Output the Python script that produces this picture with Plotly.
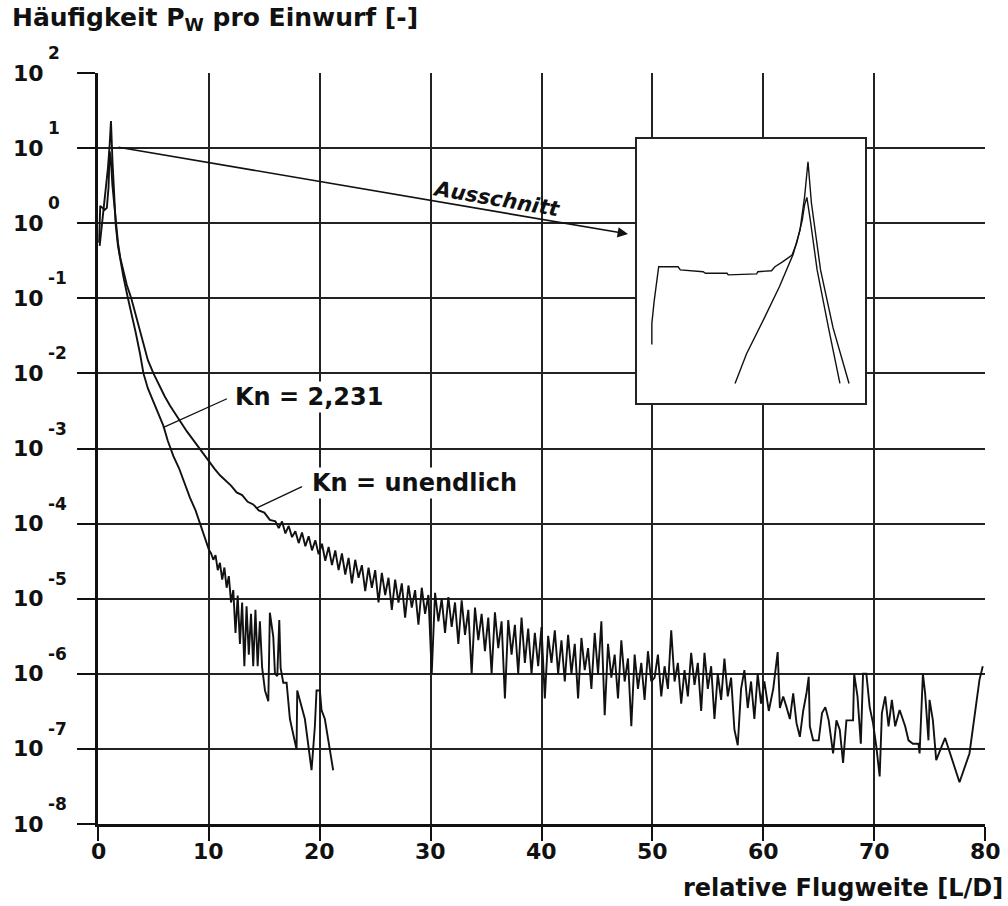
import plotly.graph_objects as go

FONT = "DejaVu Sans"
INK = "#111111"
GRID = "#222222"

# ---- Kn = unendlich : relative Flugweite [L/D] -> Häufigkeit P_W pro Einwurf ----
x_inf_head = [0.1, 0.2, 0.4, 0.6, 0.8, 0.95, 1.05, 1.15, 1.3, 1.45,
              1.6, 1.8, 2.0, 2.3, 2.6, 3.0, 3.5, 4.0, 4.5, 5.0,
              5.5, 6.0, 6.5, 7.0, 7.5, 8.0, 8.5, 9.0, 9.5, 10.0,
              10.5, 11.0, 11.5, 12.0, 12.5, 13.0, 13.5, 14.0, 14.5, 15.0,
              15.5, 16.0]
p_inf_head = [0.55, 1.7, 1.6, 1.5, 1.6, 3.0, 9.0, 7.5, 3.2, 1.9,
              1.1, 0.55, 0.35, 0.22, 0.15, 0.10, 0.052, 0.028, 0.015, 0.010,
              0.0069, 0.0050, 0.0037, 0.0028, 0.0022, 0.0017, 0.00135, 0.00107, 8.5e-4, 6.6e-4,
              5.4e-4, 4.4e-4, 3.7e-4, 3.2e-4, 2.6e-4, 2.4e-4, 1.95e-4, 1.8e-4, 1.5e-4, 1.4e-4,
              1.12e-4, 1.07e-4]

x_inf_band = [16.3, 16.6, 16.9, 17.2, 17.5, 17.8, 18.1, 18.4, 18.7, 19.0,
              19.3, 19.6, 19.9, 20.2, 20.5, 20.8, 21.1, 21.4, 21.7, 22.0,
              22.3, 22.6, 22.9, 23.2, 23.5, 23.8, 24.1, 24.4, 24.7, 25.0,
              25.3, 25.6, 25.9, 26.2, 26.5, 26.8, 27.1, 27.4, 27.7, 28.0,
              28.3, 28.6, 28.9, 29.2, 29.5, 29.8, 30.1, 30.4, 30.7, 31.0,
              31.3, 31.6, 31.9, 32.2, 32.5, 32.8, 33.1, 33.4, 33.7, 34.0,
              34.3, 34.6, 34.9, 35.2, 35.5, 35.8, 36.1, 36.4, 36.7, 37.0,
              37.3, 37.6, 37.9, 38.2, 38.5, 38.8, 39.1, 39.4, 39.7, 40.0,
              40.3, 40.6, 40.9, 41.2, 41.5, 41.8, 42.1, 42.4, 42.7, 43.0,
              43.3, 43.6, 43.9, 44.2, 44.5, 44.8, 45.1, 45.4, 45.7, 46.0,
              46.3, 46.6, 46.9, 47.2, 47.5, 47.8, 48.1, 48.4, 48.7, 49.0,
              49.3, 49.6, 49.9]
p_inf_band = [8.7e-5, 1.07e-4, 7.4e-5, 9.3e-5, 6.6e-5, 7.9e-5, 5.5e-5, 7.6e-5, 5.0e-5, 6.8e-5,
              4.4e-5, 6.0e-5, 3.9e-5, 5.4e-5, 3.2e-5, 4.9e-5, 2.8e-5, 4.4e-5, 2.4e-5, 4.0e-5,
              2.1e-5, 3.5e-5, 1.6e-5, 3.3e-5, 1.9e-5, 2.8e-5, 1.26e-5, 2.6e-5, 1.4e-5, 2.4e-5,
              8.9e-6, 2.2e-5, 1.12e-5, 1.9e-5, 7.1e-6, 1.8e-5, 8.9e-6, 1.6e-5, 5.6e-6, 1.5e-5,
              7.6e-6, 1.3e-5, 4.5e-6, 1.4e-5, 6.3e-6, 1.12e-5, 1.0e-6, 1.2e-5, 5.0e-6, 1.0e-5,
              3.5e-6, 1.05e-5, 4.2e-6, 8.9e-6, 2.5e-6, 9.5e-6, 3.3e-6, 7.1e-6, 1.0e-6, 7.6e-6,
              2.8e-6, 6.3e-6, 2.0e-6, 5.6e-6, 1.0e-6, 6.6e-6, 2.2e-6, 5.0e-6, 4.7e-7, 5.2e-6,
              1.8e-6, 4.5e-6, 1.0e-6, 5.6e-6, 1.4e-6, 4.0e-6, 1.0e-6, 3.5e-6, 1.26e-6, 4.2e-6,
              4.7e-7, 3.2e-6, 1.4e-6, 3.8e-6, 1.0e-6, 2.8e-6, 7.9e-7, 3.3e-6, 1.0e-6, 2.5e-6,
              4.7e-7, 3.0e-6, 1.12e-6, 2.2e-6, 6.3e-7, 3.5e-6, 1.0e-6, 5.0e-6, 2.8e-7, 2.5e-6,
              8.9e-7, 1.8e-6, 4.7e-7, 2.8e-6, 7.9e-7, 1.6e-6, 2.0e-7, 1.8e-6, 6.3e-7, 1.4e-6,
              4.5e-7, 2.0e-6, 7.9e-7]

x_inf_tail = [50.2, 50.5, 50.8, 51.1, 51.4, 51.7, 52.0, 52.3, 52.6, 52.9,
              53.2, 53.5, 53.8, 54.1, 54.4, 54.7, 55.0, 55.3, 55.6, 55.9,
              56.2, 56.5, 56.8, 57.1, 57.4, 57.7, 58.0, 58.3, 58.6, 58.9,
              59.2, 59.5, 59.8, 60.1, 60.5, 60.9, 61.3, 61.5, 61.8, 62.1,
              62.4, 62.7, 63.0, 63.3, 63.6, 63.9, 64.1, 64.2, 64.5, 65.0,
              65.3, 65.6, 65.9, 66.3, 66.6, 66.9, 67.2, 67.5, 68.1, 68.2,
              68.5, 68.8, 69.0, 69.3, 69.6, 69.9, 70.2, 70.5, 70.7, 71.0,
              71.3, 71.6, 71.9, 72.3, 72.8, 73.1, 73.5, 74.0, 74.1, 74.4,
              74.6, 74.9, 75.0, 75.3, 75.6, 76.4, 77.7, 78.6, 79.5, 79.8]
p_inf_tail = [8.9e-7, 1.8e-6, 5.0e-7, 1.26e-6, 6.3e-7, 3.8e-6, 7.9e-7, 1.4e-6, 4.0e-7, 1.12e-6,
              5.0e-7, 1.9e-6, 7.1e-7, 1.4e-6, 3.2e-7, 1.9e-6, 6.3e-7, 1.26e-6, 2.5e-7, 1.0e-6,
              4.5e-7, 1.6e-6, 5.0e-7, 8.9e-7, 1.8e-7, 1.12e-7, 6.3e-7, 1.12e-6, 3.5e-7, 7.9e-7,
              2.5e-7, 1.0e-6, 4.0e-7, 7.9e-7, 3.2e-7, 6.3e-7, 1.95e-6, 3.5e-7, 5.0e-7, 3.6e-7,
              2.5e-7, 5.5e-7, 2.2e-7, 1.45e-7, 3.2e-7, 5.5e-7, 9.1e-7, 2.0e-7, 1.3e-7, 1.3e-7,
              3.0e-7, 3.6e-7, 2.4e-7, 8.7e-8, 2.4e-7, 1.8e-7, 6.5e-8, 2.4e-7, 2.4e-7, 1.0e-6,
              5.0e-7, 1.17e-7, 1.0e-6, 1.0e-6, 3.6e-7, 2.2e-7, 1.07e-7, 4.3e-8, 3.0e-7, 5.0e-7,
              2.0e-7, 4.5e-7, 2.0e-7, 3.3e-7, 2.0e-7, 1.3e-7, 1.17e-7, 1.17e-7, 8.7e-8, 1.0e-6,
              5.5e-7, 1.3e-7, 4.5e-7, 2.4e-7, 7.1e-8, 1.4e-7, 3.6e-8, 8.7e-8, 8.3e-7, 1.26e-6]

# ---- Kn = 2,231 ----
x_kn_head = [0.15, 0.3, 0.5, 0.7, 0.9, 1.05, 1.17, 1.3, 1.45, 1.6,
             1.8, 2.0, 2.3, 2.7, 3.0, 3.4, 3.8, 4.1, 4.5, 5.0,
             5.5, 5.9, 6.3, 6.8, 7.3, 7.8, 8.3, 8.8, 9.2, 9.6,
             10.0]
p_kn_head = [0.5, 0.8, 1.4, 2.6, 5.5, 11.0, 23.0, 7.0, 2.2, 0.95,
             0.5, 0.32, 0.19, 0.10, 0.066, 0.035, 0.018, 0.010, 6.3e-3, 4.2e-3,
             2.8e-3, 2.0e-3, 1.26e-3, 7.9e-4, 5.5e-4, 3.5e-4, 2.2e-4, 1.5e-4, 1.0e-4, 7.1e-5,
             4.5e-5]

x_kn_band = [10.2, 10.4, 10.6, 10.8, 11.0, 11.2, 11.4, 11.6, 11.8, 12.0,
             12.2, 12.4, 12.6, 12.8, 13.0, 13.2, 13.4, 13.6, 13.8, 14.0,
             14.2, 14.4, 14.6]
p_kn_band = [4.0e-5, 3.3e-5, 3.8e-5, 2.4e-5, 3.0e-5, 1.8e-5, 2.6e-5, 1.4e-5, 2.0e-5, 8.9e-6,
             1.3e-5, 3.5e-6, 1.1e-5, 2.5e-6, 8.9e-6, 1.26e-6, 7.9e-6, 1.8e-6, 6.3e-6, 1.26e-6,
             7.1e-6, 1.26e-6, 5.0e-6]

x_kn_tail = [14.8, 15.06, 15.36, 15.5, 15.81, 15.96, 16.17, 16.35, 16.47, 16.71,
             17.01, 17.31, 17.91, 17.97, 18.21, 18.66, 19.26, 19.56, 19.71, 20.01,
             20.16, 20.46, 21.21]
p_kn_tail = [1.23e-6, 6.0e-7, 4.3e-7, 6.5e-6, 3.1e-6, 1.0e-6, 9.3e-7, 5.2e-6, 1.2e-6, 7.6e-7,
             7.6e-7, 2.5e-7, 9.8e-8, 6.0e-7, 4.5e-7, 2.5e-7, 5.2e-8, 2.0e-7, 6.0e-7, 6.0e-7,
             3.3e-7, 2.5e-7, 5.2e-8]

# ---- Ausschnitt: the emission peak at higher resolution ----
det_x_inf = [0.13, 0.13, 0.15, 0.17, 0.19, 0.36, 0.38, 0.58, 0.60, 0.79,
             0.80, 1.05, 1.06, 1.18, 1.21, 1.28, 1.36, 1.40, 1.45, 1.47,
             1.49, 1.52, 1.58, 1.68, 1.78]
det_p_inf = [0.25, 0.41, 0.69, 1.1, 1.56, 1.56, 1.45, 1.39, 1.34, 1.34,
             1.29, 1.32, 1.39, 1.42, 1.56, 1.76, 2.06, 2.71, 4.7, 6.7,
             8.0, 4.7, 1.45, 0.37, 0.1]
det_x_kn = [0.86, 0.96, 1.11, 1.25, 1.37, 1.43, 1.47, 1.50, 1.53, 1.61, 1.72, 1.86]
det_p_kn = [0.1, 0.2, 0.45, 0.98, 2.1, 3.7, 8.1, 18.5, 7.0, 1.45, 0.37, 0.1]

x_ticks = [0, 10, 20, 30, 40, 50, 60, 70, 80]
y_exponents = [2, 1, 0, -1, -2, -3, -4, -5, -6, -7, -8]

x_inf = x_inf_head + x_inf_band + x_inf_tail
p_inf = p_inf_head + p_inf_band + p_inf_tail
x_kn = x_kn_head + x_kn_band + x_kn_tail
p_kn = p_kn_head + p_kn_band + p_kn_tail


def bold(size, style="normal"):
    return dict(family=FONT, size=size, color=INK, weight="bold", style=style)


fig = go.Figure()
curve = dict(color=INK, width=1.9)
detail = dict(color=INK, width=1.4)
fig.add_trace(go.Scatter(x=x_inf, y=p_inf, mode="lines", line=curve, name="Kn = unendlich"))
fig.add_trace(go.Scatter(x=x_kn, y=p_kn, mode="lines", line=curve, name="Kn = 2,231"))
fig.add_trace(go.Scatter(x=det_x_inf, y=det_p_inf, mode="lines", line=detail,
                         xaxis="x2", yaxis="y2", name="Kn = unendlich (Ausschnitt)"))
fig.add_trace(go.Scatter(x=det_x_kn, y=det_p_kn, mode="lines", line=detail,
                         xaxis="x2", yaxis="y2", name="Kn = 2,231 (Ausschnitt)"))

frame = dict(showgrid=False, zeroline=False, showticklabels=False, ticks="",
             showline=True, mirror=True, linecolor=GRID, linewidth=2, fixedrange=True)

fig.update_layout(
    width=1008, height=906,
    margin=dict(l=98, r=23, t=73, b=82),
    paper_bgcolor="white", plot_bgcolor="white",
    showlegend=False,
    xaxis=dict(range=[0, 80], tickvals=x_ticks, showticklabels=False,
               ticks="outside", ticklen=14, tickwidth=2, tickcolor=INK,
               showgrid=True, gridcolor=GRID, gridwidth=2,
               showline=True, linecolor=INK, linewidth=3, zeroline=False,
               fixedrange=True),
    yaxis=dict(type="log", range=[-8, 2], dtick=1,
               ticks="outside", ticklen=18, tickwidth=2, tickcolor=INK,
               showticklabels=False,
               showgrid=True, gridcolor=GRID, gridwidth=2,
               showline=True, linecolor=INK, linewidth=3, zeroline=False,
               fixedrange=True),
    xaxis2=dict(domain=[0.6077, 0.8647], anchor="y2", range=[0, 2], **frame),
    yaxis2=dict(domain=[0.5606, 0.9121], anchor="x2", type="log", range=[-1.2, 1.5], **frame),
)

# white panel behind the detail view
fig.add_shape(type="rect", xref="x2 domain", yref="y2 domain", x0=0, x1=1, y0=0, y1=1,
              fillcolor="white", line=dict(width=0), layer="below")
# leader lines from the curve labels to their curves
fig.add_shape(type="line", xref="x", yref="y", x0=5.86, y0=1.9e-3, x1=11.63, y1=4.6e-3,
              line=dict(color=INK, width=1.3))
fig.add_shape(type="line", xref="x", yref="y", x0=14.34, y0=1.62e-4, x1=18.4, y1=3.1e-4,
              line=dict(color=INK, width=1.3))

ann = []
# x tick labels
for v in x_ticks:
    ann.append(dict(x=v, xref="x", y=-0.036, yref="paper", text=str(v),
                    xanchor="center", yanchor="middle", showarrow=False, font=bold(22)))
# y tick labels as 10 with superscript exponent
for e in y_exponents:
    ann.append(dict(x=-0.0981, xref="paper", y=e, yref="y", text="10",
                    xanchor="left", yanchor="middle", showarrow=False, font=bold(22)))
    ann.append(dict(x=-0.0586, xref="paper", y=e, yref="y", yshift=20, text=str(e),
                    xanchor="left", yanchor="middle", showarrow=False, font=bold(17)))

ann += [
    dict(x=-0.0992, xref="paper", y=1.0719, yref="paper", xanchor="left", yanchor="middle",
         text="Häufigkeit P<sub>W</sub> pro Einwurf [-]", showarrow=False, font=bold(25)),
    dict(x=1.0225, xref="paper", y=-0.0852, yref="paper", xanchor="right", yanchor="middle",
         text="relative Flugweite [L/D]", showarrow=False, font=bold(24)),
    # arrow towards the detail view
    dict(x=47.8, y=-0.144, ax=1.71, ay=1.015, xref="x", yref="y", axref="x", ayref="y",
         text="", showarrow=True, arrowhead=2, arrowsize=1.3, arrowwidth=1.6,
         arrowcolor=INK, standoff=0),
    dict(x=35.98, y=0.322, xref="x", yref="y", text="Ausschnitt", textangle=9.7,
         showarrow=False, font=bold(21, "italic")),
    # curve labels
    dict(x=12.17, y=-2.314, xref="x", yref="y", text="Kn = 2,231", xanchor="left",
         yanchor="middle", showarrow=False, bgcolor="white", font=bold(24)),
    dict(x=19.1, y=-3.46, xref="x", yref="y", text="Kn = unendlich", xanchor="left",
         yanchor="middle", showarrow=False, bgcolor="white", font=bold(24)),
]
fig.update_layout(annotations=ann)

fig.write_html("out.html")
